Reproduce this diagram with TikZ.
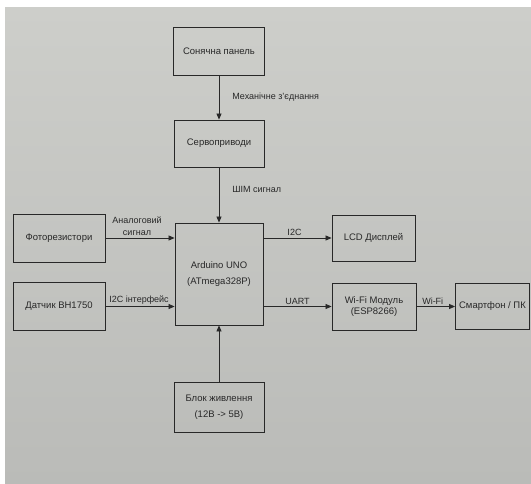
\documentclass[tikz,border=0pt]{standalone}
\usepackage{fontspec}
\setmainfont{Liberation Sans}
\usetikzlibrary{arrows.meta}
\definecolor{bgtop}{RGB}{205,206,202}
\definecolor{bgbot}{RGB}{186,187,184}
\definecolor{ink}{RGB}{40,40,40}
\begin{document}
\begin{tikzpicture}[x=1pt,y=-1pt,
  box/.style={draw=ink, line width=0.85pt, rectangle, align=center, text=ink,
              font=\fontsize{9.5}{11.5}\selectfont, inner sep=0pt},
  conn/.style={draw=ink, line width=0.8pt, -{Triangle[length=6pt,width=5pt]}},
  lbl/.style={text=ink, font=\fontsize{9}{12.5}\selectfont, align=center, inner sep=2pt}
]
\useasboundingbox (0,0) rectangle (531,484);
\fill[white] (0,0) rectangle (531,484);
\shade[top color=bgtop, bottom color=bgbot] (5,8) rectangle (531,484);

\node[box, minimum width=91pt, minimum height=48pt] (panel) at (219,51) {Сонячна панель};
\node[box, minimum width=90pt, minimum height=47pt] (servo) at (219,143.5) {Сервоприводи};
\node[box, minimum width=88pt, minimum height=102pt] (ard) at (219,274)
  {Arduino UNO\\[4.5pt](ATmega328P)};
\node[box, minimum width=92pt, minimum height=48pt] (photo) at (59,238) {Фоторезистори};
\node[box, minimum width=92pt, minimum height=48pt] (bh) at (59,306.5) {Датчик BH1750};
\node[box, minimum width=83pt, minimum height=46pt] (lcd) at (373.5,238) {LCD Дисплей};
\node[box, minimum width=84pt, minimum height=47pt] (wifi) at (374,306.5) {Wi-Fi Модуль\\(ESP8266)};
\node[box, minimum width=74pt, minimum height=46pt] (phone) at (492.5,306.5) {Смартфон / ПК};
\node[box, minimum width=90pt, minimum height=50pt] (power) at (219,407)
  {Блок живлення\\[4.5pt](12В -> 5В)};

\draw[conn] (panel) -- node[lbl, right=11pt, pos=0.5] {Механічне з'єднання} (servo);
\draw[conn] (servo) -- node[lbl, right=11pt, pos=0.4] {ШІМ сигнал} (ard);
\draw[conn] (photo) -- node[lbl, above, xshift=-3pt] {Аналоговий\\сигнал} (photo -| ard.west);
\draw[conn] (bh) -- node[lbl, above, xshift=-1pt] {I2C інтерфейс} (bh -| ard.west);
\draw[conn] (ard.east |- lcd) -- node[lbl, above, xshift=-3pt] {I2C} (lcd);
\draw[conn] (ard.east |- wifi) -- node[lbl, above] {UART} (wifi);
\draw[conn] (wifi) -- node[lbl, above, xshift=-3pt] {Wi-Fi} (phone);
\draw[conn] (power) -- (ard);
\end{tikzpicture}
\end{document}
